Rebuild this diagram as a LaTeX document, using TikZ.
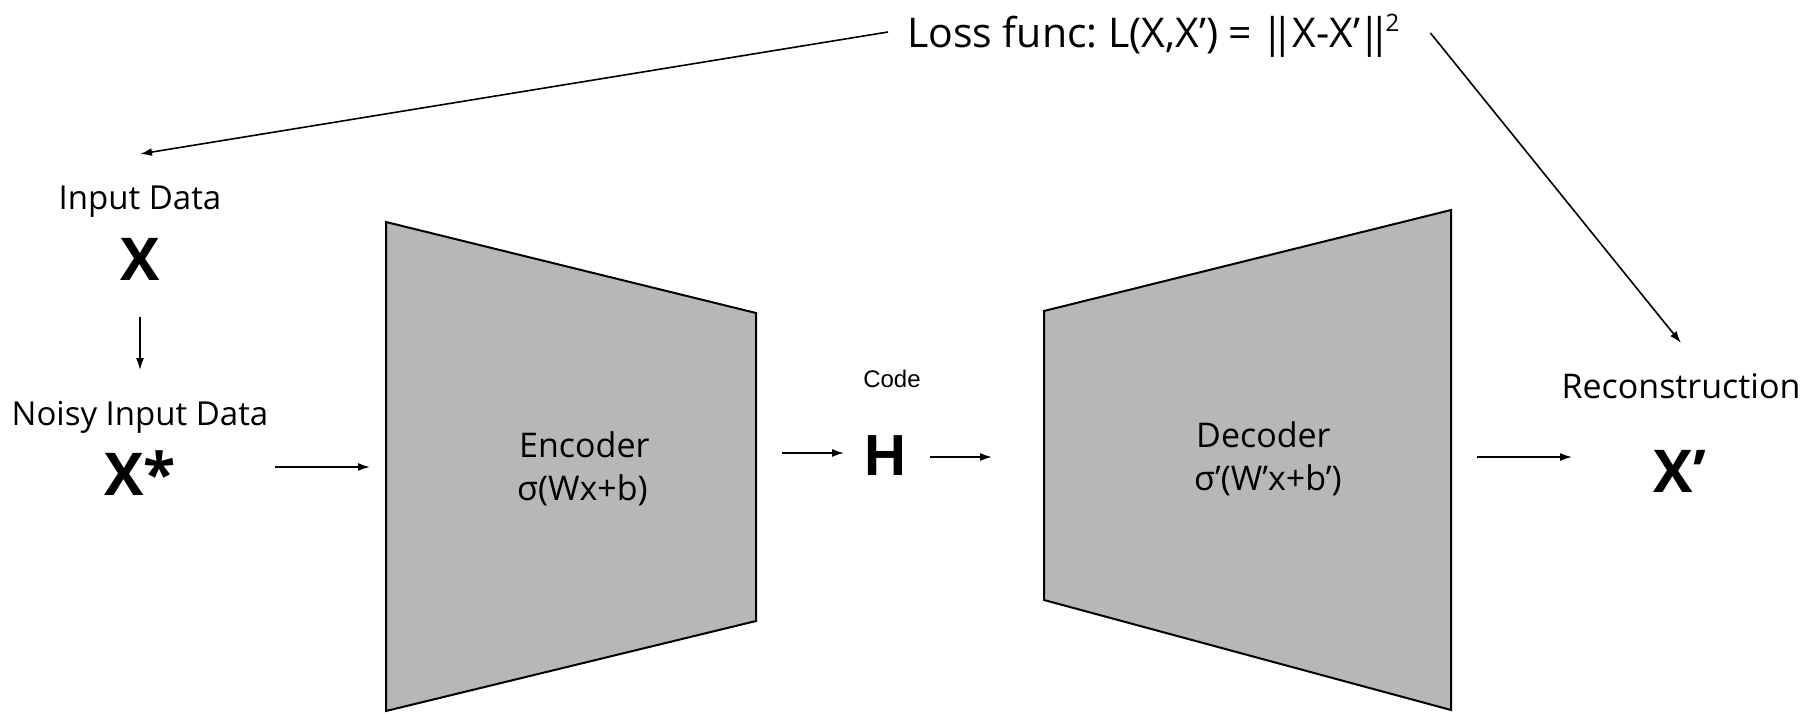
\documentclass[tikz,border=0pt]{standalone}
\usepackage{fontspec}
\setmainfont{Open Sans}
\newfontfamily\arialfont{Liberation Sans}
\usetikzlibrary{arrows.meta,calc}
\definecolor{boxgray}{RGB}{183,183,183}
% tight double bar for the norm
\newcommand\normbar{\kern-0.04em|\kern-0.3em|\kern-0.04em}
\tikzset{
  arr/.style={line width=1.6pt, -{Latex[length=12pt,width=8pt]}},
  block/.style={fill=boxgray, draw=black, line width=2pt, line join=miter},
  lbl/.style={inner sep=0pt, anchor=base, font=\fontsize{33}{38}\selectfont},
  big/.style={inner sep=0pt, anchor=base, font=\fontsize{59}{64}\selectfont\bfseries},
  inner/.style={inner sep=0pt, anchor=base west, font=\fontsize{34}{38}\selectfont},
  codelbl/.style={inner sep=0pt, anchor=base, font=\fontsize{24}{28}\selectfont\arialfont},
  hbig/.style={inner sep=0pt, anchor=base, font=\fontsize{58}{64}\selectfont\arialfont\bfseries},
  losslbl/.style={inner sep=0pt, anchor=base west, font=\fontsize{41}{46}\selectfont},
}
\frenchspacing
\begin{document}
\begin{tikzpicture}[x=1pt,y=-1pt]
\useasboundingbox (0,0) rectangle (1804,714);

% encoder and decoder blocks
\draw[block] (386,222) -- (756,313) -- (756,621) -- (386,711) -- cycle;
\draw[block] (1044,311) -- (1451,210) -- (1451,710) -- (1044,600) -- cycle;
\coordinate (encin) at (386,467);
\coordinate (encout) at (756,453);
\coordinate (decin) at (1044,457);
\coordinate (decout) at (1451,457);

\node[inner] (enc) at (519,457) {Encoder};
\node[inner] (encf) at (517,500) {σ(Wx+b)};
\node[inner] (dec) at (1196,447) {Decoder};
\node[inner] (decf) at (1194,490) {σ’(W’x+b’)};

% data labels
\node[lbl] (inlab) at (140,210) {Input Data};
\node[big] (X) at (140,280) {X};
\node[lbl] (noisy) at (140,425) {Noisy Input Data};
\node[big] (Xs) at (140,495) {X*};
\node[codelbl] (code) at (892,387) {Code};
\node[hbig] (H) at (885,475) {H};
\node[lbl, font=\fontsize{34}{38}\selectfont] (recon) at (1681,398) {Reconstruction};
\node[big] (Xp) at (1680,492) {X’};

% loss function
\node[losslbl] (loss) at (907,48) {Loss func: L(X,X’) = \normbar X-X’\normbar\kern-0.1em\raisebox{16pt}{\fontsize{24}{26}\selectfont 2}};

% connectors
\draw[arr] ([yshift=-37pt]X.base) -- ([yshift=55pt]noisy.base);
\draw[arr] ([shift={(135pt,28pt)}]Xs.base) -- ([xshift=-16pt]encin);
\draw[arr] ([xshift=26pt]encout) -- ([shift={(-41pt,22pt)}]H.base);
\draw[arr] ([shift={(45pt,18pt)}]H.base) -- ([xshift=-52pt]decin);
\draw[arr] ([xshift=26pt]decout) -- ([shift={(-108pt,35pt)}]Xp.base);
\draw[arr] ([shift={(-19pt,16pt)}]loss.base west) -- ([yshift=56pt]inlab.base);
\draw[arr] ([shift={(31pt,15pt)}]loss.base east) -- ([yshift=55pt]recon.base);
\end{tikzpicture}
\end{document}
